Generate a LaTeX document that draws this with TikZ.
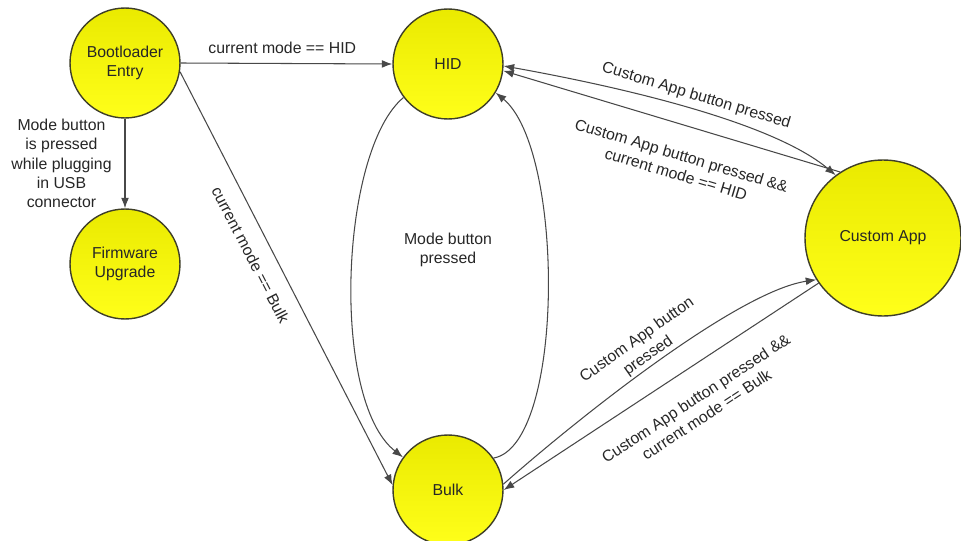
\documentclass[tikz,border=0pt]{standalone}
\usepackage{fontspec}
\setmainfont{Liberation Sans}
\usetikzlibrary{arrows.meta}

\definecolor{stateTop}{RGB}{234,234,0}
\definecolor{stateBottom}{RGB}{255,255,26}
\definecolor{stateLine}{RGB}{62,62,40}
\definecolor{arrowGray}{RGB}{72,72,72}

\tikzset{
  >={Latex[length=6pt,width=4.5pt]},
  state/.style={circle,draw=stateLine,line width=0.8pt,top color=stateTop,bottom color=stateBottom,
    minimum size=2.2cm,inner sep=0pt,align=center,text=black!85,font=\fontsize{9}{11}\selectfont},
  trans/.style={draw=arrowGray,line width=0.6pt,->},
  lbl/.style={text=black!85,align=center,font=\fontsize{9}{11}\selectfont}
}

\begin{document}
\begin{tikzpicture}[x=0.02cm,y=-0.02cm]
    \useasboundingbox (0,0) rectangle (961,541);

    % States
    \node[state] (boot) at (125,63) {Bootloader\\Entry};
    \node[state] (firmware) at (125,264) {Firmware\\Upgrade};
    \node[state] (hid) at (448,64) {HID};
    \node[state] (bulk) at (448,490) {Bulk};
    \node[state,minimum size=3.12cm] (custom) at (883,238) {Custom App};

    % Leaving the bootloader
    \draw[trans] (boot.east) -- node[lbl,above=2pt,pos=0.48] (lhid) {current mode == HID} (hid.west);
    \draw[trans] (boot.-9) -- node[lbl,sloped,below=5pt,pos=0.42] (lbulk) {current mode == Bulk} (bulk.175);
    \draw[trans] (boot.south) -- node[lbl,left=4pt] (lusb) {Mode button\\is pressed\\while plugging\\in USB\\connector} (firmware.north);

    % HID <-> Bulk
    \draw[trans] (hid.217) .. controls (340,150) and (330,400) .. (bulk.144);
    \draw[trans] (bulk.35) .. controls (565,445) and (565,150) .. (hid.-31);
    \node[lbl] (lmode) at (448,250) {Mode button\\pressed};

    % Custom App
    \draw[trans,<->] (hid.-2) .. controls (610,85) and (770,120) .. node[lbl,sloped,above,pos=0.52] (lcahid) {Custom App button pressed} (custom.127);
    \draw[trans] (custom.123) -- node[lbl,sloped,below=10pt,pos=0.445] (lhidback) {Custom App button pressed \&\&\\current mode == HID} (hid.-7);
    \draw[trans] (bulk.6) .. controls (570,425) and (735,292) .. node[lbl,sloped,above=-2pt,pos=0.5] (lcabulk) {Custom App button\\pressed} (custom.212);
    \draw[trans] (custom.215) -- node[lbl,sloped,below=9.5pt,pos=0.44] (lbulkback) {Custom App button pressed \&\&\\current mode == Bulk} (bulk.0);
\end{tikzpicture}
\end{document}
